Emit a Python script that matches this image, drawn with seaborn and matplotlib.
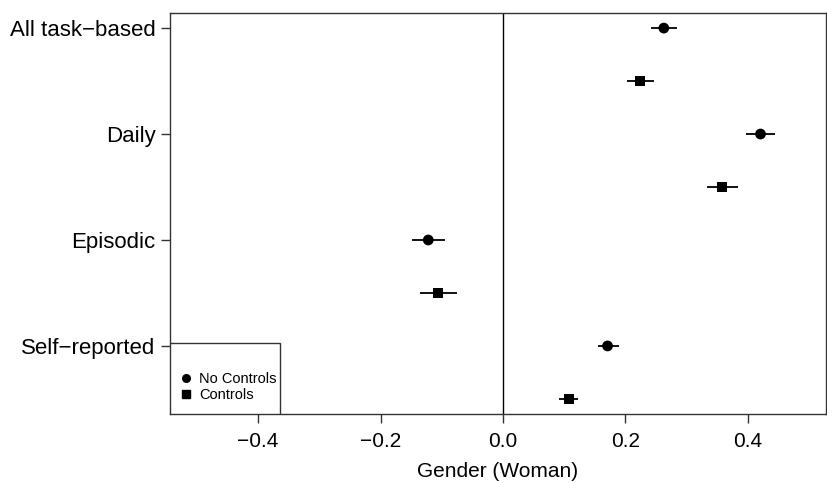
import matplotlib
matplotlib.use("Agg")
import matplotlib.pyplot as plt
from matplotlib.patches import Rectangle
from matplotlib.lines import Line2D
import seaborn as sns
import pandas as pd
import numpy as np

categories = ["All task\u2212based", "Daily", "Episodic", "Self\u2212reported"]
models = ["No Controls", "Controls"]
est_nocontrols = [0.263, 0.421, -0.122, 0.171]
lo_nocontrols = [0.242, 0.398, -0.148, 0.155]
hi_nocontrols = [0.285, 0.444, -0.095, 0.189]
est_controls = [0.224, 0.358, -0.106, 0.108]
lo_controls = [0.202, 0.334, -0.136, 0.091]
hi_controls = [0.247, 0.384, -0.075, 0.122]
xticks = [-0.4, -0.2, 0.0, 0.2, 0.4]
xtick_labels = ["\u22120.4", "\u22120.2", "0.0", "0.2", "0.4"]

rows = []
for i, c in enumerate(categories):
    rows.append(dict(category=c, model="No Controls", est=est_nocontrols[i],
                     lo=lo_nocontrols[i], hi=hi_nocontrols[i], pos=2 * i))
    rows.append(dict(category=c, model="Controls", est=est_controls[i],
                     lo=lo_controls[i], hi=hi_controls[i], pos=2 * i + 1))
df = pd.DataFrame(rows)

sns.set_style("white")
plt.rcParams['font.family'] = ['Liberation Sans', 'DejaVu Sans']
plt.rcParams['text.color'] = 'black'
plt.rcParams['axes.labelcolor'] = 'black'

fig = plt.figure(figsize=(8.28, 4.83), dpi=100)
ax = fig.add_axes([170 / 828, 1 - 414 / 483, 656 / 828, 401 / 483])

ax.hlines(df["pos"], df["lo"], df["hi"], color="black", lw=1.3, zorder=2)
sns.scatterplot(data=df, x="est", y="pos", style="model",
                markers={"No Controls": "o", "Controls": "s"},
                style_order=models, color="black", s=60, edgecolor="black",
                linewidth=0, legend=False, ax=ax, zorder=3)
ax.axvline(0, color="black", lw=1)

ax.set_xlim(-0.544, 0.528)
ax.set_ylim(7.285, -0.285)
ax.set_xticks(xticks)
ax.set_xticklabels(xtick_labels)
ax.set_yticks([0, 2, 4, 6])
ax.set_yticklabels(categories)
ax.tick_params(axis="both", which="both", length=6.8, width=1, color="#333333",
               labelcolor="black", direction="out", left=True, bottom=True)
ax.tick_params(axis="x", pad=6, labelsize=15)
ax.tick_params(axis="y", pad=3.5, labelsize=16)
ax.set_xlabel("Gender (Woman)", fontsize=15, labelpad=8, color="black")
ax.set_ylabel("")
for s in ax.spines.values():
    s.set_color("#333333")
    s.set_linewidth(1)
    s.set_visible(True)

# legend box
ax.add_patch(Rectangle((0, 0), 110 / 656, 71 / 401, transform=ax.transAxes,
                       facecolor="white", edgecolor="#333333", lw=1, zorder=4))
handles = [Line2D([], [], marker="o", color="black", ls="", markersize=5.5),
           Line2D([], [], marker="s", color="black", ls="", markersize=5.5)]
leg = ax.legend(handles, models, loc="lower left", bbox_to_anchor=(0.0, 0.0),
                frameon=False, fontsize=10.5, handlelength=0.6, handletextpad=0.6,
                labelspacing=0.15, borderaxespad=0.4, borderpad=0.4)
leg.set_zorder(5)

fig.savefig("out.png", dpi=100)
